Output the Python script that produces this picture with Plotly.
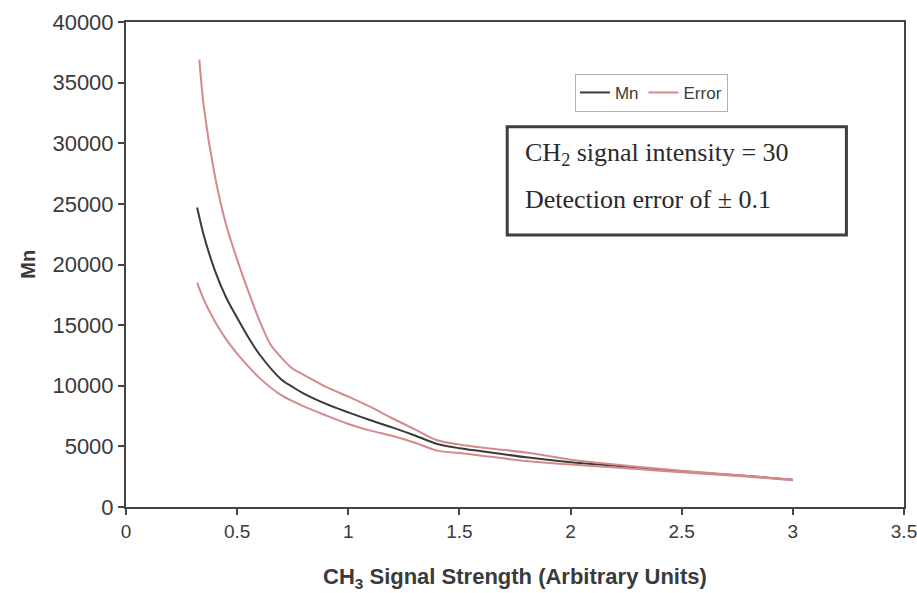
import plotly.graph_objects as go

# Data
mn_x = [0.32, 0.35, 0.4, 0.45, 0.5, 0.55, 0.6, 0.7, 0.75, 0.8, 0.9, 1.0, 1.1, 1.2, 1.3, 1.4, 1.5, 1.6, 1.8, 2.0, 2.2, 2.4, 2.6, 2.8, 3.0]
mn_y = [24700, 22400, 19500, 17300, 15600, 14000, 12600, 10500, 9900, 9350, 8500, 7800, 7150, 6550, 5900, 5200, 4850, 4600, 4100, 3700, 3400, 3100, 2800, 2550, 2250]

upper_x = [0.33, 0.35, 0.4, 0.45, 0.5, 0.55, 0.6, 0.65, 0.7, 0.75, 0.8, 0.9, 1.0, 1.1, 1.2, 1.3, 1.4, 1.5, 1.6, 1.8, 2.0, 2.2, 2.4, 2.6, 2.8, 3.0]
upper_y = [36900, 33000, 27300, 23300, 20400, 17800, 15400, 13400, 12300, 11400, 10900, 9900, 9100, 8250, 7300, 6400, 5500, 5150, 4900, 4500, 3900, 3500, 3150, 2850, 2550, 2250]

lower_x = [0.32, 0.35, 0.4, 0.45, 0.5, 0.55, 0.6, 0.7, 0.8, 0.9, 1.0, 1.1, 1.2, 1.3, 1.4, 1.5, 1.6, 1.8, 2.0, 2.2, 2.4, 2.6, 2.8, 3.0]
lower_y = [18500, 17100, 15300, 13850, 12650, 11600, 10650, 9200, 8300, 7550, 6850, 6300, 5850, 5300, 4650, 4450, 4230, 3800, 3500, 3250, 3000, 2750, 2500, 2200]

x_ticks = [0, 0.5, 1, 1.5, 2, 2.5, 3, 3.5]
y_ticks = [0, 5000, 10000, 15000, 20000, 25000, 30000, 35000, 40000]

MN_COLOR = "#3a3a3a"
ERR_COLOR = "#d48a8a"
AXIS_COLOR = "#444444"
TXT = "#3a3a3a"
SANS = "Liberation Sans, Arial, sans-serif"
SERIF = "Liberation Serif, Times New Roman, serif"

fig = go.Figure()
fig.add_trace(go.Scatter(x=mn_x, y=mn_y, mode="lines", name="Mn",
                         line=dict(color=MN_COLOR, width=2, shape="spline", smoothing=0.8)))
fig.add_trace(go.Scatter(x=upper_x, y=upper_y, mode="lines", name="Error",
                         line=dict(color=ERR_COLOR, width=2, shape="spline", smoothing=0.8),
                         legendgroup="err"))
fig.add_trace(go.Scatter(x=lower_x, y=lower_y, mode="lines", name="Error",
                         line=dict(color=ERR_COLOR, width=2, shape="spline", smoothing=0.8),
                         legendgroup="err", showlegend=False))

fig.update_layout(
    width=917, height=593,
    margin=dict(l=126, r=13, t=22, b=86, autoexpand=False),
    paper_bgcolor="white", plot_bgcolor="white",
    font=dict(family=SANS, color=TXT),
    showlegend=True,
    legend=dict(orientation="h", x=0.577, y=0.893, xanchor="left", yanchor="top",
                bordercolor="#b0b0b0", borderwidth=1, bgcolor="white",
                font=dict(size=17, color=TXT), itemwidth=30,
                tracegroupgap=0),
    xaxis=dict(range=[0, 3.5], tickvals=x_ticks, ticktext=[str(v) for v in x_ticks],
               automargin=False, ticklabeloverflow="allow",
               showgrid=False, zeroline=False, showline=True, mirror=True,
               linecolor=AXIS_COLOR, linewidth=2, ticks="outside", ticklen=6,
               tickwidth=2, tickcolor=AXIS_COLOR,
               tickfont=dict(size=19, color=TXT, family=SANS)),
    yaxis=dict(range=[0, 40000], tickvals=y_ticks, tickformat="d",
               automargin=False, ticklabeloverflow="allow",
               showgrid=False, zeroline=False, showline=True, mirror=True,
               linecolor=AXIS_COLOR, linewidth=2, ticks="outside", ticklen=6,
               tickwidth=2, tickcolor=AXIS_COLOR,
               tickfont=dict(size=22, color=TXT, family=SANS)),
)

# Axis titles
fig.add_annotation(xref="paper", yref="paper", x=0.5, y=-0.146, xanchor="center", yanchor="middle",
                   text="<b>CH<sub>3</sub> Signal Strength (Arbitrary Units)</b>", showarrow=False,
                   font=dict(family=SANS, size=22, color=TXT))
fig.add_annotation(xref="paper", yref="paper", x=-0.127, y=0.5, xanchor="center", yanchor="middle",
                   text="<b>Mn</b>", textangle=-90, showarrow=False,
                   font=dict(family=SANS, size=20, color=TXT))

# Info box
fig.add_shape(type="rect", xref="paper", yref="paper",
              x0=0.49, x1=0.926, y0=0.561, y1=0.784,
              line=dict(color="#3f3f3f", width=3), fillcolor="white", layer="above")

fig.add_annotation(xref="paper", yref="paper", x=0.51, y=0.727, xanchor="left", yanchor="middle",
                   text="CH<sub>2</sub> signal intensity = 30", showarrow=False,
                   font=dict(family=SERIF, size=26, color="#2a2a2a"))
fig.add_annotation(xref="paper", yref="paper", x=0.51, y=0.633, xanchor="left", yanchor="middle",
                   text="Detection error of \u00b1 0.1", showarrow=False,
                   font=dict(family=SERIF, size=26, color="#2a2a2a"))

fig.write_html("out.html", config={"displayModeBar": False},
               post_script="document.body.style.margin='0';document.body.style.padding='0';")
